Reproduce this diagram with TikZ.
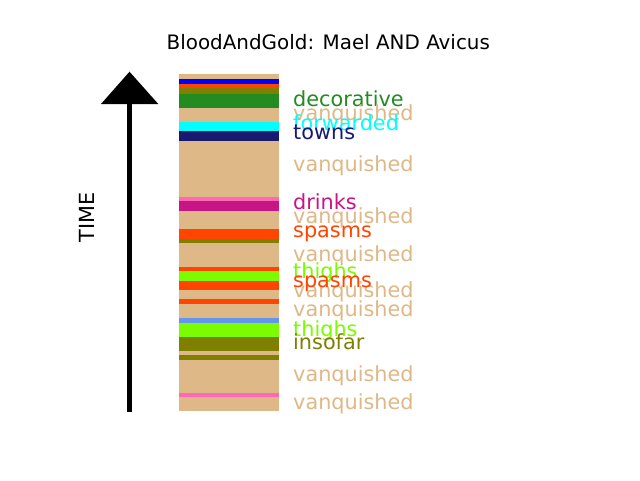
\documentclass[tikz,border=0pt]{standalone}
\usepackage{fontspec}
\setmainfont{DejaVu Sans}
\definecolor{cBurly}{HTML}{DEB887}
\definecolor{cBlue}{HTML}{0000FF}
\definecolor{cOrRed}{HTML}{FF4500}
\definecolor{cOlive}{HTML}{808000}
\definecolor{cForest}{HTML}{228B22}
\definecolor{cCyan}{HTML}{00FFFF}
\definecolor{cMidnight}{HTML}{191970}
\definecolor{cHotPink}{HTML}{FF69B4}
\definecolor{cMVRed}{HTML}{C71585}
\definecolor{cLawn}{HTML}{7CFC00}
\definecolor{cCorn}{HTML}{6495ED}
\begin{document}
\begin{tikzpicture}[x=1pt,y=-1pt,
  lab/.style={anchor=base west, inner sep=0pt, font=\fontsize{20.8}{25}\selectfont},
  band/.style={fill=#1}]
\useasboundingbox (0,0) rectangle (640,480);
\fill[white] (0,0) rectangle (640,480);
% title
\node[anchor=base, inner sep=0pt, font=\fontsize{19.9}{24}\selectfont] (title) at (328.3,49.5) {BloodAndGold: Mael AND Avicus};
% bands
\foreach \a/\b/\c in {74/79/cBurly, 79/84/cBlue, 84/88.3/cOrRed, 88.3/94/cOlive, 94/107.7/cForest,
  107.7/121.7/cBurly, 121.7/130.7/cCyan, 130.7/140.7/cMidnight, 140.7/196.7/cBurly,
  196.7/200.7/cHotPink, 200.7/211/cMVRed, 211/229/cBurly, 229/239/cOrRed, 239/242.7/cOlive,
  242.7/266.7/cBurly, 266.7/271/cOrRed, 271/280.7/cLawn, 280.7/290/cOrRed, 290/299/cBurly,
  299/304/cOrRed, 304/317.7/cBurly, 317.7/323/cCorn, 323/337/cLawn, 337/351/cOlive,
  351/354.7/cBurly, 354.7/359.7/cOlive, 359.7/392.7/cBurly, 392.7/397/cHotPink, 397/410.7/cBurly}
  {\fill[band=\c] (179,\a) rectangle (278.7,\b);}
% arrow
\coordinate (abot) at (129.5,412);
\coordinate (atop) at (129.5,104);
\draw[line width=5pt] (abot) -- (atop);
\fill (101,104) -- (129.5,71.7) -- (158.3,104) -- cycle;
\node[rotate=90, anchor=base, inner sep=0pt, font=\fontsize{20.8}{25}\selectfont] (time) at (94,217.7) {TIME};
% labels
\node[lab, text=cForest] (l1) at (293,106.8) {decorative};
\node[lab, text=cBurly] (l2) at (293,120.2) {vanquished};
\node[lab, text=cCyan] (l3) at (293,130.2) {forwarded};
\node[lab, text=cMidnight] (l4) at (293,139.2) {towns};
\node[lab, text=cBurly] (l5) at (293,171) {vanquished};
\node[lab, text=cMVRed] (l6) at (293,209.2) {drinks};
\node[lab, text=cBurly] (l7) at (293,223.2) {vanquished};
\node[lab, text=cOrRed] (l8) at (293,237.6) {spasms};
\node[lab, text=cBurly] (l9) at (293,261) {vanquished};
\node[lab, text=cLawn] (l10) at (293,278) {thighs};
\node[lab, text=cBurly] (l12) at (293,297.6) {vanquished};
\node[lab, text=cOrRed] (l11) at (293,287.6) {spasms};
\node[lab, text=cBurly] (l13) at (293,316) {vanquished};
\node[lab, text=cLawn] (l14) at (293,336) {thighs};
\node[lab, text=cOlive] (l15) at (293,349.2) {insofar};
\node[lab, text=cBurly] (l16) at (293,381) {vanquished};
\node[lab, text=cBurly] (l17) at (293,409.2) {vanquished};
\end{tikzpicture}
\end{document}
